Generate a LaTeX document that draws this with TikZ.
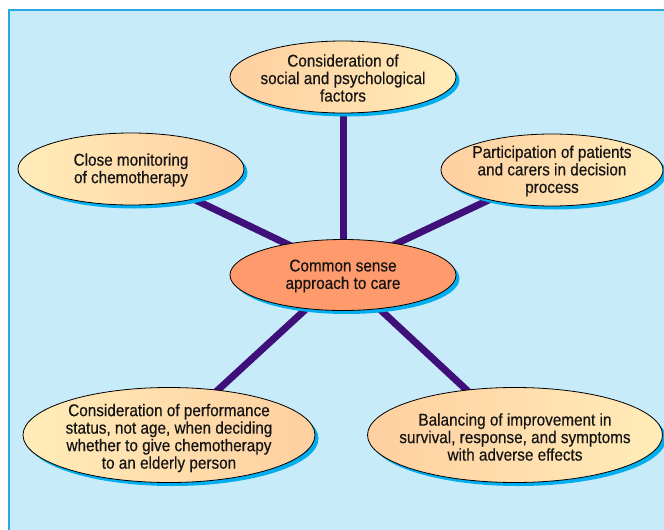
\documentclass[tikz,border=0pt]{standalone}
\usepackage{fontspec}
\setmainfont{Liberation Sans}[FakeStretch=0.9,FakeBold=0.35]
\usetikzlibrary{shapes.geometric,shadows}
\definecolor{frameblue}{RGB}{42,168,224}
\definecolor{bgblue}{RGB}{200,235,250}
\definecolor{shadowcyan}{RGB}{0,174,239}
\definecolor{linkpurple}{RGB}{64,16,122}
\definecolor{paleyellow}{RGB}{255,236,184}
\definecolor{paleorange}{RGB}{255,207,160}
\definecolor{salmon}{RGB}{255,154,108}
\definecolor{txt}{RGB}{20,20,20}
\pgfdeclarelayer{bg}
\pgfdeclarelayer{edges}
\pgfsetlayers{bg,edges,main}
\tikzset{
  bubble/.style={ellipse, draw=black, line width=0.8pt, inner sep=0pt,
    drop shadow={shadow xshift=3.5pt, shadow yshift=-3.5pt, fill=shadowcyan, opacity=1}},
  label/.style={align=center, text=txt, inner sep=0pt,
    font=\fontsize{17}{17.5}\selectfont},
  ytoo/.style={left color=paleyellow, right color=paleorange},
  otoy/.style={left color=paleorange, right color=paleyellow},
  link/.style={draw=linkpurple, line width=7pt}
}
\begin{document}
\begin{tikzpicture}[x=1pt,y=-1pt]
\useasboundingbox (0,0) rectangle (664,530);
\begin{pgfonlayer}{bg}
  \fill[white] (0,0) rectangle (664,530);
  \fill[bgblue] (9,10) rectangle (670,540);
  \draw[frameblue, line width=1.5pt] (9,540) -- (9,10) -- (670,10);
\end{pgfonlayer}
\node[bubble, fill=salmon, minimum width=226, minimum height=71] (c) at (343,275) {};
\node[label] (ctext) at (343,276) {Common sense\\approach to care};
\node[bubble, otoy, minimum width=226, minimum height=72] (t) at (343,77) {};
\node[label] (ttext) at (343,78) {Consideration of\\social and psychological\\factors};
\node[bubble, ytoo, minimum width=226, minimum height=72] (ul) at (131,169) {};
\node[label] (ultext) at (131,170) {Close monitoring\\of chemotherapy};
\node[bubble, otoy, minimum width=222, minimum height=72] (ur) at (552,170) {};
\node[label] (urtext) at (552,171) {Participation of patients\\and carers in decision\\process};
\node[bubble, ytoo, minimum width=292, minimum height=95] (ll) at (169,435) {};
\node[label] (lltext) at (169,438) {Consideration of performance\\status, not age, when deciding\\whether to give chemotherapy\\to an elderly person};
\node[bubble, otoy, minimum width=295, minimum height=95] (lr) at (515,435) {};
\node[label] (lrtext) at (515,437) {Balancing of improvement in\\survival, response, and symptoms\\with adverse effects};
\begin{pgfonlayer}{edges}
  \draw[link] (c.center) -- (t.center);
  \draw[link] ([yshift=4pt]c.center) -- (ul.center);
  \draw[link] ([yshift=6pt]c.center) -- (ur.center);
  \draw[link] (c.center) -- (ll.center);
  \draw[link] (c.center) -- (lr.center);
\end{pgfonlayer}
\end{tikzpicture}
\end{document}
